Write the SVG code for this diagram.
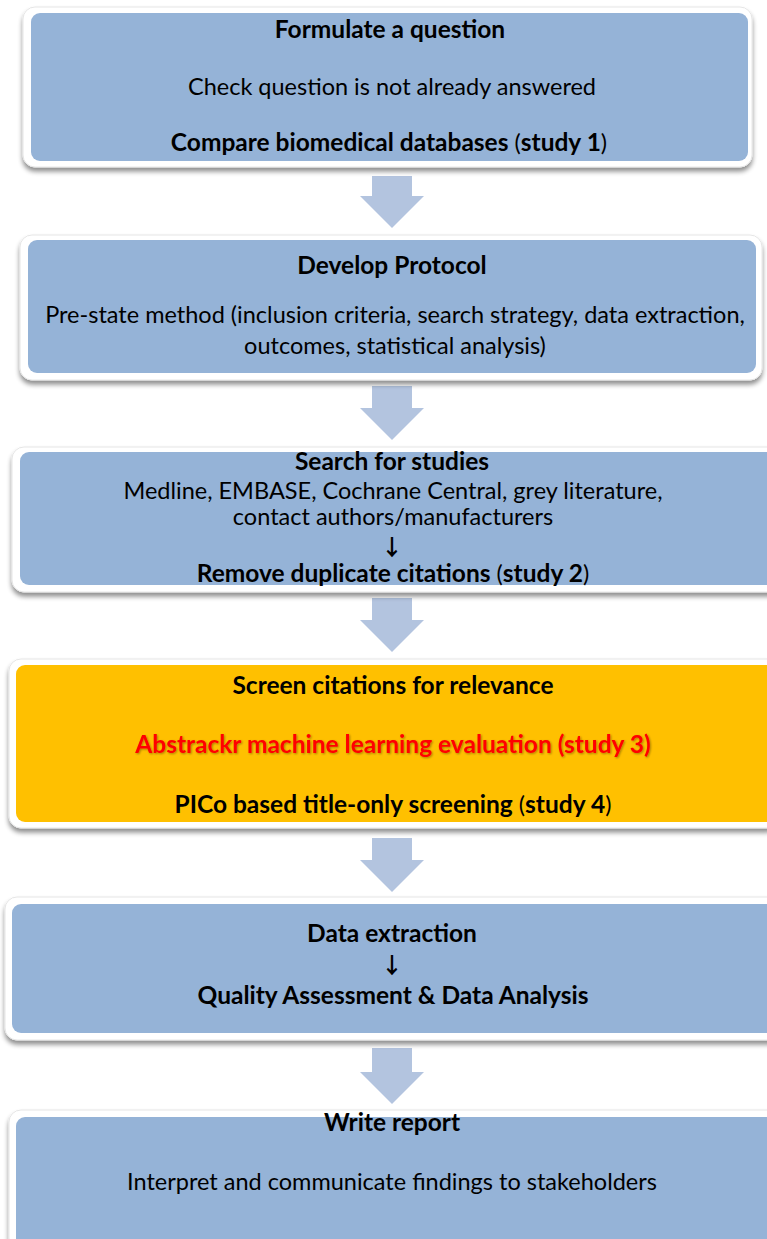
<svg xmlns="http://www.w3.org/2000/svg" width="767" height="1239" viewBox="0 0 767 1239">
<defs>
<filter id="sh" x="-5%" y="-10%" width="110%" height="125%">
<feGaussianBlur in="SourceAlpha" stdDeviation="2.5"/>
<feOffset dx="0" dy="4" result="b"/>
<feComponentTransfer><feFuncA type="linear" slope="0.45"/></feComponentTransfer>
<feMerge><feMergeNode/><feMergeNode in="SourceGraphic"/></feMerge>
</filter>
<filter id="ts" x="-5%" y="-30%" width="110%" height="160%">
<feGaussianBlur in="SourceAlpha" stdDeviation="0.8"/>
<feOffset dx="1" dy="1"/>
<feComponentTransfer><feFuncA type="linear" slope="0.35"/></feComponentTransfer>
<feMerge><feMergeNode/><feMergeNode in="SourceGraphic"/></feMerge>
</filter>
</defs>
<style>
.frame{fill:#ffffff;stroke:#e6e6e6;stroke-width:1;filter:url(#sh)}
.blue{fill:#95b3d7}
.orange{fill:#ffc000}
.arr{fill:#b3c4df}
text{font-family:Lato,"Liberation Sans",sans-serif;font-size:23.5px;fill:#000;text-anchor:middle}
.b{font-weight:bold;font-size:24.5px}
.ar{font-family:"Noto Sans CJK JP","DejaVu Sans",sans-serif;font-weight:bold;font-size:22px}
.red{fill:#ff0000;filter:url(#ts)}
</style>
<rect width="767" height="1239" fill="#ffffff"/>
<g id="connectors">
<polygon class="arr" points="372,176 412,176 412,196 424,196 392,228 360,196 372,196"/>
<polygon class="arr" points="372,386 412,386 412,408 424,408 392,440 360,408 372,408"/>
<polygon class="arr" points="372,598 412,598 412,620 424,620 392,652 360,620 372,620"/>
<polygon class="arr" points="372,838 412,838 412,860 424,860 392,892 360,860 372,860"/>
<polygon class="arr" points="372,1048 412,1048 412,1072 424,1072 392,1104 360,1072 372,1072"/>
</g>
<g id="node1">
<rect class="frame" x="23" y="7" width="729" height="160" rx="12"/>
<rect class="blue" x="31" y="13" width="717" height="148" rx="9"/>
<text x="390" y="38" class="b">Formulate a question</text>
<text x="392" y="95">Check question is not already answered</text>
<text x="389" y="151"><tspan class="b">Compare biomedical databases</tspan> (<tspan class="b">study 1</tspan>)</text>
</g>
<g id="node2">
<rect class="frame" x="20" y="235" width="742" height="145" rx="12"/>
<rect class="blue" x="28" y="240" width="728" height="133" rx="9"/>
<text x="392" y="274" class="b">Develop Protocol</text>
<text x="395" y="323">Pre-state method (inclusion criteria, search strategy, data extraction,</text>
<text x="395" y="354">outcomes, statistical analysis)</text>
</g>
<g id="node3">
<rect class="frame" x="12" y="447" width="770" height="145" rx="12"/>
<rect class="blue" x="20" y="452" width="760" height="133" rx="9"/>
<text x="392" y="470" class="b">Search for studies</text>
<text x="393" y="499">Medline, EMBASE, Cochrane Central, grey literature,</text>
<text x="393" y="525">contact authors/manufacturers</text>
<text x="392" y="555" class="ar">↓</text>
<text x="393" y="582"><tspan class="b">Remove duplicate citations</tspan>  (<tspan class="b">study 2</tspan>)</text>
</g>
<g id="node4">
<rect class="frame" x="9" y="659" width="770" height="169" rx="12"/>
<rect class="orange" x="16" y="665" width="760" height="157" rx="9"/>
<text x="393" y="694" class="b">Screen citations for relevance</text>
<text x="393" y="753" class="b red">Abstrackr machine learning evaluation (study 3)</text>
<text x="393" y="813"><tspan class="b">PICo based title-only screening</tspan> (<tspan class="b">study 4</tspan>)</text>
</g>
<g id="node5">
<rect class="frame" x="5" y="897" width="780" height="143" rx="12"/>
<rect class="blue" x="12" y="904" width="770" height="129" rx="9"/>
<text x="392" y="942" class="b">Data extraction</text>
<text x="392" y="973" class="ar">↓</text>
<text x="393" y="1004" class="b">Quality Assessment &amp; Data Analysis</text>
</g>
<g id="node6">
<rect class="frame" x="9" y="1110" width="780" height="140" rx="12"/>
<rect class="blue" x="16" y="1117" width="770" height="130" rx="9"/>
<text x="392" y="1131" class="b">Write report</text>
<text x="392" y="1190">Interpret and communicate findings to stakeholders</text>
</g>
</svg>
